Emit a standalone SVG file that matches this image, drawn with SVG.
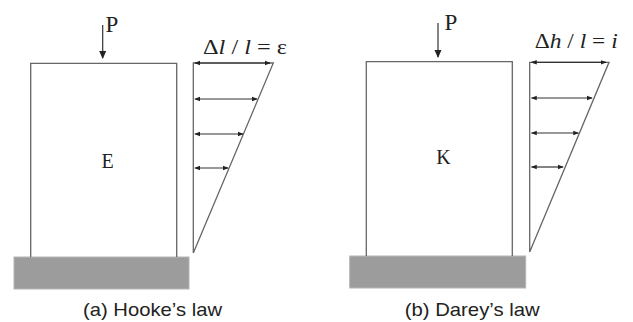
<svg xmlns="http://www.w3.org/2000/svg" width="633" height="322" viewBox="0 0 633 322">
<style>
.ln{fill:none;stroke:#666;stroke-width:1.3}
.ar{stroke:#333;stroke-width:1.2;fill:none}
.serif{font-family:"Liberation Serif","Times New Roman",serif;fill:#222}
.sans{font-family:"Liberation Sans",Arial,sans-serif;fill:#222;font-size:19px}
.gnd{fill:#9c9c9c;stroke:#b5b5b5;stroke-width:1}
</style>
<defs>
<marker id="ah" viewBox="0 0 8 8" refX="7" refY="4" markerWidth="6" markerHeight="6" orient="auto-start-reverse" markerUnits="userSpaceOnUse">
<path d="M0,1 L8,4 L0,7 Z" fill="#222"/>
</marker>
<marker id="ap" viewBox="0 0 8 8" refX="7" refY="4" markerWidth="8" markerHeight="8" orient="auto" markerUnits="userSpaceOnUse">
<path d="M0,0.5 L8,4 L0,7.5 Z" fill="#222"/>
</marker>
</defs>

<g id="panel-a">
  <g id="ground-a"><rect class="gnd" x="14" y="257" width="175" height="32"/></g>
  <g id="column-a">
    <polyline class="ln" points="30.7,257 30.7,63.3 176.7,63.3 176.7,257"/>
    <text class="serif" x="107.5" y="168" font-size="20" text-anchor="middle">E</text>
  </g>
  <g id="load-a">
    <line x1="102.7" y1="25" x2="102.7" y2="58" stroke="#333" stroke-width="1.2" marker-end="url(#ap)"/>
    <text class="serif" x="105.5" y="32" font-size="23">P</text>
  </g>
  <g id="strain-a">
    <polyline class="ln" points="193.3,253 193.3,63 273.3,63 193.3,253"/>
    <text class="serif" x="203" y="54" font-size="21" textLength="84" lengthAdjust="spacingAndGlyphs">Δ<tspan font-style="italic">l</tspan> / <tspan font-style="italic">l</tspan> = ε</text>
  </g>
</g>

<g id="panel-b">
  <g id="ground-b"><rect class="gnd" x="349.7" y="256" width="176" height="32"/></g>
  <g id="column-b">
    <polyline class="ln" points="366.3,256 366.3,61.7 512.3,61.7 512.3,256"/>
    <text class="serif" x="443.5" y="164" font-size="20" text-anchor="middle">K</text>
  </g>
  <g id="load-b">
    <line x1="438" y1="23" x2="438" y2="57" stroke="#333" stroke-width="1.2" marker-end="url(#ap)"/>
    <text class="serif" x="444.5" y="30" font-size="23">P</text>
  </g>
  <g id="strain-b">
    <polyline class="ln" points="529.7,252 529.7,62.3 609,62.3 529.7,252"/>
    <text class="serif" x="534.7" y="48" font-size="21" textLength="83" lengthAdjust="spacingAndGlyphs">Δ<tspan font-style="italic">h</tspan> / <tspan font-style="italic">l</tspan> = <tspan font-style="italic">i</tspan></text>
  </g>
</g>

<g id="connectors">
  <line class="ar" x1="195" y1="63" x2="270" y2="63" marker-start="url(#ah)" marker-end="url(#ah)"/>
  <line class="ar" x1="195" y1="99" x2="257" y2="99" marker-start="url(#ah)" marker-end="url(#ah)"/>
  <line class="ar" x1="195" y1="134" x2="243" y2="134" marker-start="url(#ah)" marker-end="url(#ah)"/>
  <line class="ar" x1="195" y1="168" x2="228" y2="168" marker-start="url(#ah)" marker-end="url(#ah)"/>
  <line class="ar" x1="531.5" y1="62.3" x2="606" y2="62.3" marker-start="url(#ah)" marker-end="url(#ah)"/>
  <line class="ar" x1="531.5" y1="98" x2="592" y2="98" marker-start="url(#ah)" marker-end="url(#ah)"/>
  <line class="ar" x1="531.5" y1="133" x2="578.5" y2="133" marker-start="url(#ah)" marker-end="url(#ah)"/>
  <line class="ar" x1="531.5" y1="167" x2="563" y2="167" marker-start="url(#ah)" marker-end="url(#ah)"/>
</g>

<g id="captions">
  <text class="sans" x="83" y="316" textLength="139" lengthAdjust="spacingAndGlyphs">(a) Hooke’s law</text>
  <text class="sans" x="404.7" y="316" textLength="135" lengthAdjust="spacingAndGlyphs">(b) Darey’s law</text>
</g>
</svg>
